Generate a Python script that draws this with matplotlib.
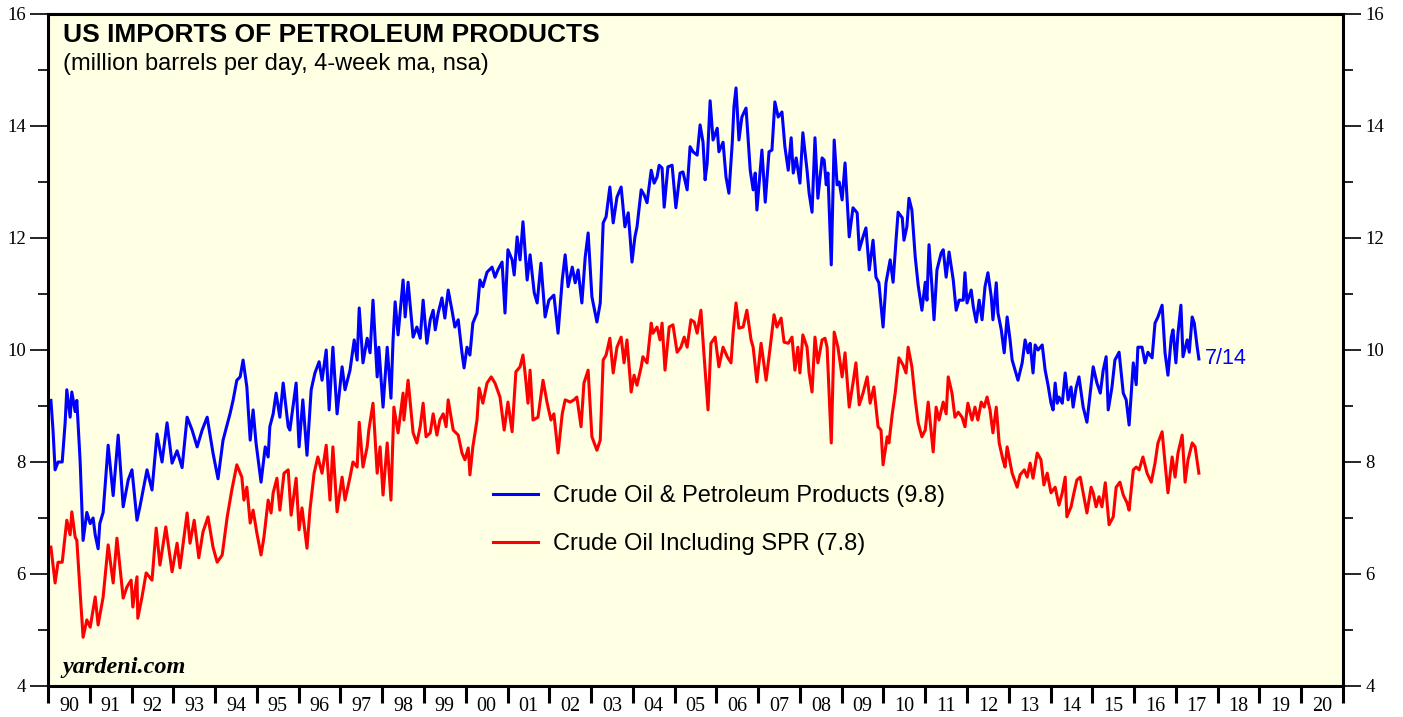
import matplotlib
matplotlib.use("Agg")
import matplotlib.pyplot as plt
from matplotlib.ticker import FixedLocator, MultipleLocator, NullFormatter, FixedFormatter

# ---------------- data (decimal year, million barrels per day) ----------------
blue_years = [1990.07, 1990.12, 1990.17, 1990.24, 1990.34, 1990.41, 1990.45, 1990.53, 1990.57, 1990.65,
              1990.69, 1990.77, 1990.84, 1990.93, 1991.01, 1991.08, 1991.13, 1991.20, 1991.24, 1991.32,
              1991.44, 1991.56, 1991.68, 1991.80, 1991.92, 1992.01, 1992.13, 1992.20, 1992.37, 1992.49,
              1992.61, 1992.73, 1992.85, 1992.97, 1993.09, 1993.21, 1993.33, 1993.45, 1993.57, 1993.69,
              1993.81, 1993.95, 1994.07, 1994.19, 1994.36, 1994.43, 1994.52, 1994.60, 1994.67, 1994.76,
              1994.84, 1994.91, 1994.98, 1995.10, 1995.20, 1995.27, 1995.31, 1995.39, 1995.46, 1995.55,
              1995.63, 1995.75, 1995.79, 1995.94, 1996.01, 1996.10, 1996.20, 1996.30, 1996.39, 1996.49,
              1996.56, 1996.66, 1996.73, 1996.82, 1996.92, 1997.04, 1997.11, 1997.23, 1997.33, 1997.40,
              1997.45, 1997.54, 1997.64, 1997.71, 1997.78, 1997.88, 1997.92, 1998.02, 1998.12, 1998.21,
              1998.26, 1998.31, 1998.38, 1998.50, 1998.55, 1998.62, 1998.74, 1998.83, 1998.91, 1998.98,
              1999.07, 1999.15, 1999.22, 1999.27, 1999.34, 1999.43, 1999.50, 1999.58, 1999.67, 1999.74,
              1999.82, 1999.91, 1999.96, 2000.03, 2000.10, 2000.17, 2000.27, 2000.34, 2000.41, 2000.51,
              2000.63, 2000.70, 2000.77, 2000.87, 2000.94, 2001.01, 2001.11, 2001.16, 2001.23, 2001.30,
              2001.37, 2001.47, 2001.54, 2001.64, 2001.71, 2001.80, 2001.90, 2001.99, 2002.11, 2002.21,
              2002.31, 2002.38, 2002.45, 2002.55, 2002.62, 2002.69, 2002.78, 2002.86, 2002.93, 2003.02,
              2003.14, 2003.22, 2003.29, 2003.36, 2003.45, 2003.53, 2003.62, 2003.72, 2003.81, 2003.89,
              2003.98, 2004.05, 2004.10, 2004.20, 2004.27, 2004.34, 2004.44, 2004.51, 2004.58, 2004.63,
              2004.70, 2004.75, 2004.84, 2004.94, 2005.03, 2005.13, 2005.20, 2005.30, 2005.37, 2005.44,
              2005.54, 2005.61, 2005.68, 2005.73, 2005.78, 2005.85, 2005.92, 2006.02, 2006.06, 2006.16,
              2006.23, 2006.30, 2006.38, 2006.42, 2006.47, 2006.54, 2006.61, 2006.71, 2006.81, 2006.88,
              2006.93, 2006.97, 2007.09, 2007.17, 2007.26, 2007.33, 2007.40, 2007.48, 2007.57, 2007.64,
              2007.72, 2007.79, 2007.84, 2007.91, 2008.00, 2008.07, 2008.17, 2008.22, 2008.29, 2008.36,
              2008.43, 2008.53, 2008.58, 2008.63, 2008.67, 2008.75, 2008.82, 2008.89, 2008.94, 2009.01,
              2009.08, 2009.18, 2009.27, 2009.37, 2009.42, 2009.51, 2009.58, 2009.66, 2009.75, 2009.82,
              2009.89, 2009.99, 2010.06, 2010.16, 2010.23, 2010.30, 2010.35, 2010.45, 2010.49, 2010.56,
              2010.61, 2010.68, 2010.76, 2010.83, 2010.92, 2011.00, 2011.04, 2011.09, 2011.16, 2011.21,
              2011.28, 2011.38, 2011.43, 2011.50, 2011.57, 2011.67, 2011.74, 2011.81, 2011.91, 2011.95,
              2012.00, 2012.10, 2012.15, 2012.22, 2012.29, 2012.36, 2012.43, 2012.50, 2012.58, 2012.62,
              2012.70, 2012.74, 2012.82, 2012.89, 2012.96, 2013.03, 2013.08, 2013.15, 2013.22, 2013.32,
              2013.39, 2013.46, 2013.51, 2013.58, 2013.63, 2013.70, 2013.80, 2013.87, 2013.94, 2014.01,
              2014.06, 2014.11, 2014.16, 2014.20, 2014.28, 2014.35, 2014.42, 2014.49, 2014.54, 2014.61,
              2014.68, 2014.78, 2014.87, 2014.95, 2015.02, 2015.11, 2015.19, 2015.26, 2015.33, 2015.38,
              2015.47, 2015.54, 2015.64, 2015.74, 2015.81, 2015.88, 2015.98, 2016.05, 2016.09, 2016.19,
              2016.26, 2016.33, 2016.43, 2016.50, 2016.57, 2016.67, 2016.74, 2016.81, 2016.89, 2016.93,
              2017.00, 2017.05, 2017.12, 2017.17, 2017.27, 2017.32, 2017.39, 2017.44, 2017.51, 2017.55]
blue_vals = [9.10, 8.57, 7.86, 8.00, 8.00, 8.70, 9.29, 8.80, 9.25, 8.90,
             9.10, 8.00, 6.60, 7.10, 6.90, 7.00, 6.70, 6.45, 6.90, 7.10,
             8.30, 7.40, 8.48, 7.20, 7.68, 7.86, 6.96, 7.20, 7.86, 7.50,
             8.50, 8.00, 8.70, 7.98, 8.20, 7.90, 8.80, 8.57, 8.27, 8.57,
             8.80, 8.16, 7.70, 8.39, 8.87, 9.10, 9.46, 9.52, 9.82, 9.34,
             8.39, 8.93, 8.34, 7.64, 8.27, 8.09, 8.63, 8.86, 9.23, 8.80,
             9.41, 8.63, 8.57, 9.41, 8.27, 9.11, 8.12, 9.29, 9.59, 9.79,
             9.46, 10.00, 8.93, 10.05, 8.86, 9.70, 9.29, 9.64, 10.18, 9.82,
             10.75, 9.77, 10.21, 9.95, 10.89, 9.52, 10.05, 8.98, 10.05, 9.14,
             10.18, 10.86, 10.27, 11.25, 10.59, 11.21, 10.23, 10.41, 10.21, 10.89,
             10.12, 10.54, 10.71, 10.36, 10.66, 10.93, 10.57, 11.07, 10.71, 10.41,
             10.54, 9.95, 9.68, 10.05, 9.91, 10.48, 10.66, 11.25, 11.13, 11.39,
             11.48, 11.30, 11.43, 11.57, 10.66, 11.79, 11.61, 11.34, 12.02, 11.61,
             12.29, 11.25, 11.70, 11.02, 10.84, 11.55, 10.59, 10.89, 10.98, 10.30,
             11.25, 11.70, 11.13, 11.48, 11.20, 11.43, 10.84, 11.66, 12.09, 10.95,
             10.50, 10.84, 12.27, 12.38, 12.91, 12.27, 12.73, 12.91, 12.20, 12.45,
             11.57, 12.02, 12.20, 12.86, 12.77, 12.63, 13.21, 12.98, 13.09, 13.30,
             13.25, 12.55, 13.27, 13.30, 12.54, 13.16, 13.18, 12.86, 13.63, 13.54,
             13.48, 14.02, 13.71, 13.04, 13.34, 14.45, 13.75, 13.96, 13.54, 13.71,
             13.09, 12.80, 13.70, 14.34, 14.68, 13.75, 14.16, 14.32, 13.21, 12.86,
             13.16, 12.50, 13.57, 12.64, 13.54, 13.57, 14.43, 14.16, 14.25, 13.63,
             13.21, 13.79, 13.16, 13.43, 12.98, 13.88, 13.21, 12.80, 12.46, 13.79,
             12.71, 13.43, 13.39, 12.95, 13.16, 11.52, 13.75, 12.95, 13.00, 12.68,
             13.34, 12.02, 12.54, 12.45, 11.79, 12.02, 12.18, 11.43, 11.96, 11.30,
             11.20, 10.41, 11.20, 11.61, 11.21, 11.96, 12.46, 12.36, 11.96, 12.20,
             12.71, 12.50, 11.66, 11.16, 10.71, 11.21, 10.89, 11.88, 11.13, 10.54,
             11.43, 11.73, 11.79, 11.30, 11.75, 11.25, 10.71, 10.89, 10.89, 11.38,
             10.84, 11.07, 10.77, 10.50, 10.89, 10.54, 11.13, 11.38, 10.95, 10.54,
             11.20, 10.66, 10.36, 9.95, 10.59, 10.18, 9.82, 9.64, 9.46, 9.77,
             10.18, 9.95, 10.12, 9.59, 10.09, 10.00, 10.09, 9.64, 9.37, 9.05,
             8.93, 9.41, 9.05, 9.16, 9.05, 9.59, 9.11, 9.34, 8.98, 9.32,
             9.52, 8.98, 8.71, 9.23, 9.70, 9.41, 9.23, 9.64, 9.88, 8.93,
             9.34, 9.82, 9.96, 9.23, 9.11, 8.66, 9.77, 9.38, 10.05, 10.05,
             9.77, 9.96, 9.86, 10.48, 10.59, 10.80, 9.95, 9.55, 10.23, 10.36,
             9.77, 10.30, 10.80, 9.88, 10.18, 9.96, 10.59, 10.48, 10.05, 9.84]

red_years = [1990.07, 1990.17, 1990.24, 1990.34, 1990.45, 1990.53, 1990.57, 1990.65, 1990.69, 1990.77,
             1990.84, 1990.93, 1991.01, 1991.13, 1991.20, 1991.32, 1991.44, 1991.56, 1991.65, 1991.80,
             1991.89, 1991.99, 1992.03, 1992.13, 1992.15, 1992.25, 1992.35, 1992.49, 1992.59, 1992.68,
             1992.82, 1992.97, 1993.09, 1993.16, 1993.33, 1993.40, 1993.50, 1993.61, 1993.71, 1993.83,
             1993.95, 1994.05, 1994.17, 1994.29, 1994.40, 1994.52, 1994.64, 1994.69, 1994.76, 1994.84,
             1994.91, 1995.00, 1995.10, 1995.17, 1995.27, 1995.34, 1995.39, 1995.48, 1995.55, 1995.65,
             1995.75, 1995.82, 1995.94, 1996.01, 1996.08, 1996.20, 1996.27, 1996.37, 1996.46, 1996.56,
             1996.66, 1996.75, 1996.82, 1996.92, 1997.04, 1997.11, 1997.23, 1997.30, 1997.40, 1997.45,
             1997.54, 1997.64, 1997.68, 1997.78, 1997.88, 1997.95, 1998.02, 1998.12, 1998.21, 1998.28,
             1998.38, 1998.50, 1998.52, 1998.62, 1998.74, 1998.83, 1998.91, 1998.98, 1999.05, 1999.15,
             1999.22, 1999.31, 1999.38, 1999.46, 1999.53, 1999.58, 1999.70, 1999.82, 1999.91, 1999.98,
             2000.06, 2000.10, 2000.17, 2000.27, 2000.32, 2000.41, 2000.51, 2000.61, 2000.70, 2000.82,
             2000.92, 2001.01, 2001.11, 2001.20, 2001.30, 2001.37, 2001.42, 2001.49, 2001.54, 2001.61,
             2001.73, 2001.85, 2001.95, 2002.04, 2002.11, 2002.21, 2002.31, 2002.38, 2002.50, 2002.59,
             2002.66, 2002.76, 2002.83, 2002.93, 2003.02, 2003.14, 2003.22, 2003.29, 2003.36, 2003.45,
             2003.53, 2003.62, 2003.72, 2003.79, 2003.86, 2003.96, 2004.03, 2004.10, 2004.20, 2004.24,
             2004.34, 2004.44, 2004.48, 2004.58, 2004.65, 2004.70, 2004.77, 2004.87, 2004.96, 2005.06,
             2005.15, 2005.23, 2005.30, 2005.39, 2005.47, 2005.54, 2005.63, 2005.70, 2005.80, 2005.87,
             2005.97, 2006.06, 2006.16, 2006.26, 2006.35, 2006.40, 2006.47, 2006.54, 2006.64, 2006.73,
             2006.83, 2006.88, 2006.97, 2007.07, 2007.19, 2007.28, 2007.38, 2007.45, 2007.55, 2007.62,
             2007.72, 2007.81, 2007.88, 2007.95, 2008.00, 2008.07, 2008.17, 2008.22, 2008.29, 2008.36,
             2008.43, 2008.53, 2008.60, 2008.65, 2008.75, 2008.82, 2008.91, 2009.01, 2009.08, 2009.18,
             2009.27, 2009.34, 2009.42, 2009.51, 2009.61, 2009.68, 2009.77, 2009.87, 2009.94, 2009.99,
             2010.09, 2010.13, 2010.21, 2010.28, 2010.37, 2010.47, 2010.54, 2010.59, 2010.68, 2010.76,
             2010.83, 2010.92, 2011.00, 2011.07, 2011.19, 2011.26, 2011.33, 2011.43, 2011.50, 2011.55,
             2011.64, 2011.71, 2011.79, 2011.88, 2011.95, 2012.02, 2012.12, 2012.19, 2012.26, 2012.34,
             2012.41, 2012.48, 2012.55, 2012.62, 2012.70, 2012.77, 2012.86, 2012.91, 2012.96, 2013.08,
             2013.20, 2013.27, 2013.37, 2013.44, 2013.51, 2013.58, 2013.68, 2013.77, 2013.84, 2013.92,
             2014.01, 2014.11, 2014.20, 2014.28, 2014.35, 2014.39, 2014.49, 2014.56, 2014.63, 2014.71,
             2014.78, 2014.87, 2014.97, 2015.02, 2015.09, 2015.16, 2015.23, 2015.31, 2015.40, 2015.50,
             2015.57, 2015.66, 2015.74, 2015.83, 2015.88, 2015.98, 2016.05, 2016.12, 2016.21, 2016.31,
             2016.41, 2016.50, 2016.57, 2016.67, 2016.74, 2016.81, 2016.91, 2016.98, 2017.05, 2017.15,
             2017.22, 2017.29, 2017.39, 2017.46, 2017.55]
red_vals = [6.48, 5.84, 6.21, 6.21, 6.96, 6.70, 7.11, 6.66, 6.60, 5.66,
            4.87, 5.18, 5.05, 5.59, 5.09, 5.59, 6.52, 5.84, 6.64, 5.57,
            5.77, 5.89, 5.41, 5.95, 5.21, 5.59, 6.02, 5.89, 6.82, 6.16,
            6.84, 6.04, 6.55, 6.11, 7.09, 6.55, 6.96, 6.29, 6.75, 7.02,
            6.48, 6.21, 6.34, 7.02, 7.50, 7.95, 7.73, 7.32, 7.55, 6.91,
            7.14, 6.73, 6.34, 6.66, 7.32, 7.09, 7.45, 7.71, 7.14, 7.80,
            7.86, 7.05, 7.71, 6.79, 7.18, 6.46, 7.14, 7.80, 8.09, 7.80,
            8.30, 7.32, 8.27, 7.11, 7.73, 7.32, 7.73, 8.00, 7.91, 8.71,
            7.91, 8.27, 8.57, 9.05, 7.80, 8.27, 7.41, 8.34, 7.32, 8.98,
            8.52, 9.23, 8.75, 9.46, 8.52, 8.34, 8.63, 9.05, 8.45, 8.52,
            8.86, 8.48, 8.75, 8.86, 8.63, 9.11, 8.57, 8.48, 8.16, 8.04,
            8.25, 7.77, 8.27, 8.75, 9.32, 9.05, 9.41, 9.52, 9.41, 9.16,
            8.57, 9.07, 8.54, 9.61, 9.70, 9.91, 9.59, 9.05, 9.64, 8.75,
            8.80, 9.46, 9.05, 8.75, 8.86, 8.16, 8.86, 9.11, 9.07, 9.11,
            9.16, 8.63, 9.41, 9.64, 8.45, 8.21, 8.39, 9.82, 9.91, 10.21,
            9.59, 10.05, 10.23, 9.77, 10.18, 9.25, 9.55, 9.37, 9.70, 9.88,
            9.77, 10.48, 10.30, 10.41, 10.18, 10.48, 9.64, 10.41, 10.45, 9.96,
            10.05, 10.23, 10.05, 10.54, 10.50, 10.30, 10.71, 9.95, 8.93, 10.12,
            10.23, 9.70, 10.05, 9.88, 9.77, 10.30, 10.84, 10.39, 10.41, 10.71,
            10.18, 10.05, 9.43, 10.12, 9.46, 10.00, 10.63, 10.41, 10.57, 10.14,
            10.12, 10.23, 9.64, 10.05, 9.59, 10.27, 10.05, 9.59, 9.25, 10.23,
            9.77, 10.18, 10.21, 10.05, 8.34, 10.32, 10.05, 9.52, 9.95, 8.98,
            9.41, 9.77, 9.02, 9.23, 9.52, 9.05, 9.34, 8.63, 8.57, 7.95,
            8.45, 8.34, 8.86, 9.23, 9.86, 9.73, 9.59, 10.05, 9.70, 9.11,
            8.70, 8.45, 8.57, 9.07, 8.18, 8.98, 8.75, 9.07, 8.86, 9.52,
            9.23, 8.80, 8.89, 8.80, 8.63, 9.05, 8.75, 8.98, 8.75, 9.07,
            8.98, 9.16, 8.93, 8.52, 8.98, 8.34, 8.04, 7.91, 8.27, 7.80,
            7.55, 7.77, 7.86, 7.73, 7.98, 7.71, 8.16, 8.04, 7.59, 7.80,
            7.45, 7.55, 7.23, 7.45, 7.73, 7.02, 7.20, 7.45, 7.68, 7.73,
            7.45, 7.09, 7.55, 7.45, 7.20, 7.38, 7.20, 7.63, 6.88, 7.02,
            7.55, 7.64, 7.41, 7.27, 7.14, 7.86, 7.91, 7.86, 8.09, 7.80,
            7.64, 7.98, 8.34, 8.54, 7.98, 7.45, 8.09, 7.73, 8.16, 8.48,
            7.64, 8.04, 8.34, 8.27, 7.80]

series_labels = ["Crude Oil & Petroleum Products (9.8)", "Crude Oil Including SPR (7.8)"]
series_colors = ["#0000FF", "#FF0000"]
year_ticks = list(range(1990, 2022))
year_labels = ["%02d" % (y % 100) for y in range(1990, 2021)]
last_date_label = "7/14"

title = "US IMPORTS OF PETROLEUM PRODUCTS"
subtitle = "(million barrels per day, 4-week ma, nsa)"
source = "yardeni.com"

# ---------------- figure ----------------
W, H = 1403, 717
AW, AH = 1343 - 48, 672
fig = plt.figure(figsize=(W / 100, H / 100), dpi=100)
fig.patch.set_facecolor("white")
ax = fig.add_axes([48 / W, 31 / H, AW / W, AH / H])
ax.set_facecolor("#FFFFE3")

ax.plot(blue_years, blue_vals, color=series_colors[0], lw=2.2, solid_joinstyle="round")
ax.plot(red_years, red_vals, color=series_colors[1], lw=2.2, solid_joinstyle="round")

ax.set_xlim(1990, 2021)
ax.set_ylim(4, 16)

for s in ax.spines.values():
    s.set_linewidth(2.2)
    s.set_color("black")

serif = "Liberation Serif"
sans = "Liberation Sans"

# y axis ticks both sides
ax.yaxis.set_major_locator(MultipleLocator(2))
ax.yaxis.set_minor_locator(MultipleLocator(1))
ax.tick_params(axis="y", which="major", direction="out", length=13, width=1.2,
               left=True, right=True, labelleft=True, labelright=True, labelsize=13.5, pad=3)
ax.tick_params(axis="y", which="minor", direction="out", length=7, width=1.2,
               left=True, right=True)
for lab in ax.get_yticklabels():
    lab.set_fontfamily(serif)

# x axis: ticks at year boundaries, labels centered between
ax.xaxis.set_major_locator(FixedLocator(year_ticks))
ax.xaxis.set_major_formatter(NullFormatter())
ax.xaxis.set_minor_locator(FixedLocator([y + 0.5 for y in range(1990, 2021)]))
ax.xaxis.set_minor_formatter(FixedFormatter(year_labels))
ax.tick_params(axis="x", which="major", direction="out", length=12, width=2.2, top=False)
ax.tick_params(axis="x", which="minor", length=0, labelsize=14.5, pad=8)
for lab in ax.get_xticklabels(minor=True):
    lab.set_fontfamily(serif)

# titles
ax.text(15 / AW, 1 - 21 / AH, title, transform=ax.transAxes, fontsize=19, fontweight="bold",
        family=sans, va="center", ha="left")
ax.text(15 / AW, 1 - 50 / AH, subtitle, transform=ax.transAxes, fontsize=17,
        family=sans, va="center", ha="left")
ax.text(14 / AW, 18 / AH, source, transform=ax.transAxes, fontsize=17.5, fontweight="bold",
        style="italic", family=serif, va="center", ha="left")

# legend
leg = ax.legend([plt.Line2D([], [], color=c, lw=2.2) for c in series_colors], series_labels,
                loc="upper left", bbox_to_anchor=(445 / AW, 1 - 471 / AH), frameon=False,
                borderaxespad=0, borderpad=0,
                prop={"family": sans, "size": 17}, handlelength=1.9, handletextpad=0.64,
                labelspacing=1.1)

# last-date label
ax.annotate(last_date_label, xy=(blue_years[-1], blue_vals[-1]), xytext=(4, 0),
            textcoords="offset points", color=series_colors[0], fontsize=15.5, family=sans,
            va="center", ha="left")

fig.savefig("out.png", dpi=100)
